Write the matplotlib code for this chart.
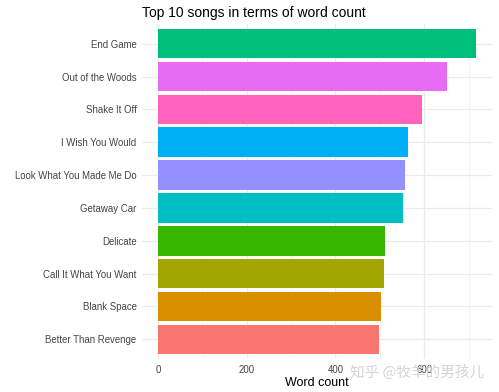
import matplotlib.pyplot as plt
import numpy as np

plt.rcParams["font.family"] = ["Liberation Sans", "DejaVu Sans"]

# songs from bottom to top
songs = ["Better Than Revenge", "Blank Space", "Call It What You Want", "Delicate",
         "Getaway Car", "Look What You Made Me Do", "I Wish You Would",
         "Shake It Off", "Out of the Woods", "End Game"]
word_counts = [498, 503, 510, 512, 552, 557, 564, 595, 652, 717]
colors = ["#F8766D", "#D89000", "#A3A500", "#39B600", "#00BFC4",
          "#9590FF", "#00B0F6", "#FF62BC", "#E76BF3", "#00BF7D"]
x_ticks = [0, 200, 400, 600]

fig = plt.figure(figsize=(4.99, 3.92), dpi=100)
ax = fig.add_axes([142 / 499, 1 - 359 / 392, (492 - 142) / 499, (359 - 24) / 392])

y = np.arange(1, len(songs) + 1)
ax.barh(y, word_counts, height=0.9, color=colors, zorder=2)

xmax = max(word_counts)
ax.set_xlim(-0.05 * xmax, 1.05 * xmax)
ax.set_ylim(0.4, len(songs) + 0.6)
ax.set_xticks(x_ticks)
ax.set_xticks([100, 300, 500, 700], minor=True)
ax.set_yticks(y)
ax.set_yticklabels(songs)

ax.grid(True, which="major", color="#EBEBEB", linewidth=0.9, zorder=0)
ax.grid(True, which="minor", axis="x", color="#F4F4F4", linewidth=0.6, zorder=0)
for s in ax.spines.values():
    s.set_visible(False)
ax.tick_params(axis="both", which="both", length=0, labelsize=6.9, labelcolor="#444444", pad=4)

ax.set_xlabel("Word count", fontsize=9, color="black", labelpad=1.5)
ax.set_title("Top 10 songs in terms of word count", fontsize=10, loc="left", pad=5)

# watermark
fig.text(0.835, 0.05, "知乎 @牧羊的男孩儿", fontsize=10.5, color="#D0D0D0", alpha=0.9,
         ha="center", va="center", family=["Noto Sans CJK SC", "DejaVu Sans"])

fig.savefig("out.png", dpi=100, facecolor="white")
